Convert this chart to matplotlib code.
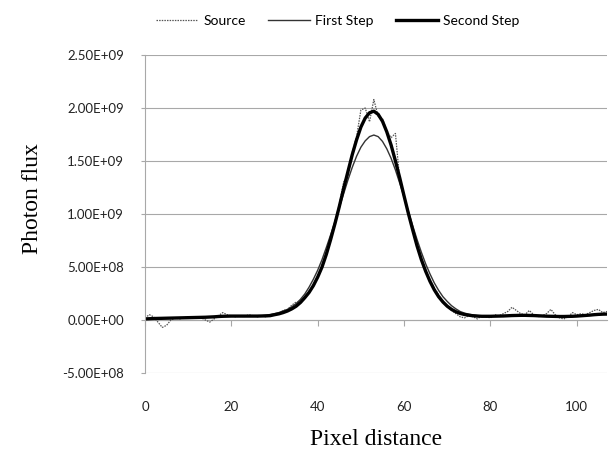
import matplotlib
matplotlib.use("Agg")
import matplotlib.pyplot as plt
import numpy as np

# photon flux profile along a pixel line, values in units of 1e9
source = [0.02, 0.05, 0.03, -0.02, -0.07, -0.05, 0.0, 0.02, 0.01, 0.02,
          0.03, 0.02, 0.03, 0.02, 0.0, -0.02, 0.01, 0.04, 0.07, 0.05,
          0.04, 0.03, 0.04, 0.03, 0.05, 0.04, 0.03, 0.04, 0.03, 0.04,
          0.05, 0.06, 0.09, 0.10, 0.14, 0.17, 0.16, 0.20, 0.27, 0.31,
          0.41, 0.49, 0.64, 0.75, 0.93, 1.09, 1.30, 1.36, 1.58, 1.73,
          1.98, 2.00, 1.87, 2.08, 1.92, 1.90, 1.78, 1.72, 1.76, 1.32,
          1.16, 0.99, 0.86, 0.70, 0.58, 0.45, 0.38, 0.30, 0.24, 0.18,
          0.13, 0.09, 0.06, 0.03, 0.02, 0.04, 0.03, 0.01, 0.04, 0.03,
          0.02, 0.05, 0.04, 0.06, 0.08, 0.12, 0.09, 0.06, 0.05, 0.09,
          0.05, 0.03, 0.04, 0.06, 0.10, 0.05, 0.02, 0.01, 0.03, 0.07,
          0.05, 0.06, 0.05, 0.07, 0.09, 0.10, 0.07, 0.08]

first_step = [0.010, 0.012, 0.014, 0.015, 0.016, 0.017, 0.018, 0.019, 0.020, 0.021,
              0.022, 0.023, 0.024, 0.025, 0.026, 0.028, 0.030, 0.033, 0.035, 0.036,
              0.037, 0.037, 0.037, 0.037, 0.037, 0.037, 0.038, 0.040, 0.045, 0.052,
              0.060, 0.070, 0.085, 0.100, 0.125, 0.155, 0.195, 0.245, 0.310, 0.385,
              0.470, 0.570, 0.685, 0.805, 0.930, 1.060, 1.190, 1.320, 1.440, 1.545,
              1.630, 1.690, 1.730, 1.745, 1.730, 1.685, 1.615, 1.525, 1.415, 1.290,
              1.160, 1.025, 0.890, 0.760, 0.640, 0.530, 0.435, 0.350, 0.280, 0.220,
              0.175, 0.135, 0.105, 0.080, 0.065, 0.055, 0.047, 0.042, 0.039, 0.037,
              0.035, 0.036, 0.037, 0.038, 0.040, 0.042, 0.043, 0.044, 0.044, 0.043,
              0.042, 0.040, 0.038, 0.036, 0.035, 0.034, 0.033, 0.033, 0.034, 0.035,
              0.037, 0.040, 0.043, 0.046, 0.050, 0.053, 0.055, 0.056]

second_step = [0.010, 0.012, 0.014, 0.015, 0.016, 0.017, 0.018, 0.019, 0.020, 0.021,
               0.022, 0.023, 0.024, 0.025, 0.026, 0.028, 0.030, 0.033, 0.035, 0.036,
               0.037, 0.037, 0.037, 0.037, 0.037, 0.037, 0.037, 0.038, 0.039, 0.041,
               0.050, 0.058, 0.070, 0.085, 0.105, 0.130, 0.165, 0.210, 0.260, 0.325,
               0.405, 0.500, 0.620, 0.760, 0.910, 1.070, 1.240, 1.400, 1.560, 1.700,
               1.820, 1.905, 1.955, 1.970, 1.940, 1.875, 1.775, 1.650, 1.500, 1.340,
               1.170, 1.005, 0.850, 0.700, 0.570, 0.460, 0.365, 0.285, 0.220, 0.170,
               0.130, 0.100, 0.078, 0.062, 0.052, 0.045, 0.040, 0.037, 0.035, 0.035,
               0.035, 0.036, 0.037, 0.038, 0.040, 0.042, 0.043, 0.044, 0.044, 0.043,
               0.042, 0.040, 0.038, 0.036, 0.035, 0.034, 0.033, 0.033, 0.034, 0.035,
               0.037, 0.040, 0.043, 0.046, 0.050, 0.053, 0.055, 0.056]

x_ticks = [0, 20, 40, 60, 80, 100]
y_ticks = [-5e8, 0, 5e8, 1e9, 1.5e9, 2e9, 2.5e9]
y_labels = ['-5.00E+08', '0.00E+00', '5.00E+08', '1.00E+09',
            '1.50E+09', '2.00E+09', '2.50E+09']

x = np.arange(len(source))
scale = 1e9

fig = plt.figure(figsize=(6.11, 4.55), dpi=100)
ax = fig.add_axes([145 / 611, 82 / 455, 462 / 611, 318 / 455])

ax.plot(x, np.array(source) * scale, color='#555555', lw=0.9,
        ls=(0, (1.2, 0.9)), label='Source')
ax.plot(x, np.array(first_step) * scale, color='#333333', lw=1.0,
        label='First Step')
ax.plot(x, np.array(second_step) * scale, color='black', lw=2.4,
        label='Second Step')

ax.set_xlim(0, 107)
ax.set_ylim(-5e8, 2.5e9)

ax.set_yticks(y_ticks)
ax.set_yticklabels(y_labels)
ax.set_xticks(x_ticks)
ax.set_xticklabels([str(v) for v in x_ticks])

for lab in ax.get_xticklabels() + ax.get_yticklabels():
    lab.set_family('Lato')
    lab.set_fontsize(9.5)
    lab.set_color('#222222')

ax.grid(axis='y', color='#a8a8a8', lw=0.8)
ax.set_axisbelow(True)
ax.tick_params(axis='x', length=0, pad=20)
ax.tick_params(axis='y', length=3, color='#a8a8a8', pad=12)

for s in ['top', 'right', 'bottom']:
    ax.spines[s].set_visible(False)
ax.spines['left'].set_color('#a8a8a8')
ax.spines['left'].set_linewidth(0.8)

# horizontal axis line crosses at y = 0 with small tick marks
ymin, ymax = ax.get_ylim()
sec = ax.secondary_xaxis((0 - ymin) / (ymax - ymin))
sec.set_xticks(x_ticks)
sec.tick_params(length=4, color='#a8a8a8', labelbottom=False, direction='out')
sec.spines['bottom'].set_color('#a8a8a8')
sec.spines['bottom'].set_linewidth(0.8)

ax.set_xlabel('Pixel distance', family='Liberation Serif', fontsize=17, labelpad=12)
ax.set_ylabel('Photon flux', family='Liberation Serif', fontsize=17)
ax.yaxis.set_label_coords(-0.22, 0.55)

fig.legend(loc='upper center', bbox_to_anchor=(0.553, 0.995), ncol=3,
           frameon=False, handlelength=3.0, handletextpad=0.4, columnspacing=1.6,
           prop={'family': 'Lato', 'size': 10})

fig.savefig('out.png', dpi=100)
